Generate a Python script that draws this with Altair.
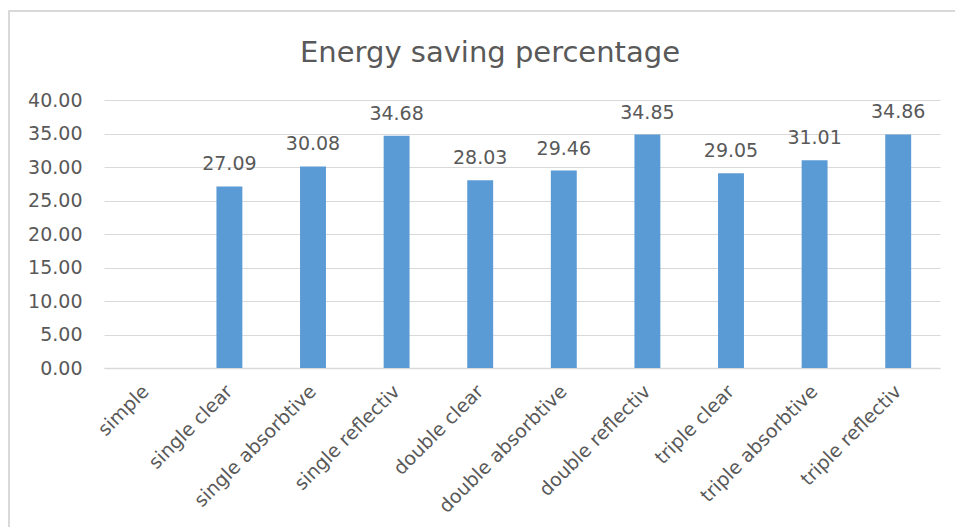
import altair as alt
import pandas as pd

# Glazing variants and their energy saving percentages
categories = [
    "simple", "single clear", "single absorbtive", "single reflectiv",
    "double clear", "double absorbtive", "double reflectiv",
    "triple clear", "triple absorbtive", "triple reflectiv",
]
savings = [None, 27.09, 30.08, 34.68, 28.03, 29.46, 34.85, 29.05, 31.01, 34.86]
y_ticks = [0, 5, 10, 15, 20, 25, 30, 35, 40]

df = pd.DataFrame({"category": categories, "saving": savings})

FONT = "DejaVu Sans"
TEXT_COLOR = "#595959"
GRID_COLOR = "#d9d9d9"
BAR_COLOR = "#5b9bd5"
LABEL_SIZE = 19

base = alt.Chart(df).encode(
    x=alt.X(
        "category:N",
        sort=categories,
        scale=alt.Scale(paddingInner=0.69, paddingOuter=0.345),
        axis=alt.Axis(
            title=None,
            labelAngle=-45,
            labelAlign="right",
            labelBaseline="middle",
            labelPadding=20,
            labelFont=FONT,
            labelFontSize=LABEL_SIZE,
            labelColor=TEXT_COLOR,
            labelOverlap=False,
            ticks=False,
            domainColor=GRID_COLOR,
            domainWidth=1.5,
            grid=False,
        ),
    ),
    y=alt.Y(
        "saving:Q",
        scale=alt.Scale(domain=[0, 40], nice=False, zero=True),
        axis=alt.Axis(
            title=None,
            values=y_ticks,
            format=".2f",
            labelPadding=22,
            labelFont=FONT,
            labelFontSize=LABEL_SIZE,
            labelColor=TEXT_COLOR,
            labelOverlap=False,
            ticks=False,
            domain=False,
            grid=True,
            gridColor=GRID_COLOR,
            gridWidth=1.2,
        ),
    ),
)

bars = base.mark_bar(color=BAR_COLOR)

labels = base.transform_filter("isValid(datum.saving)").mark_text(
    font=FONT,
    fontSize=LABEL_SIZE,
    color=TEXT_COLOR,
    baseline="alphabetic",
    dy=-16,
).encode(text=alt.Text("saving:Q", format=".2f"))

# Chart heading, drawn as a text mark above the plot
heading = alt.Chart(alt.Data(values=[{"t": "Energy saving percentage"}])).mark_text(
    font=FONT,
    fontSize=29,
    color=TEXT_COLOR,
    baseline="alphabetic",
    align="center",
).encode(x=alt.value(386), y=alt.value(-38), text="t:N")

# Light outline around the whole chart area
frame = (
    alt.Chart(alt.Data(values=[{}]))
    .mark_rect(fill="transparent", stroke=GRID_COLOR, strokeWidth=2)
    .encode(
        x=alt.value(-95),
        y=alt.value(-89),
        x2=alt.value(870),
        y2=alt.value(450),
    )
)

chart = (
    alt.layer(frame, bars, labels, heading)
    .properties(
        width=836,
        height=268,
        background="white",
        autosize=alt.AutoSizeParams(type="none"),
        padding={"left": 104, "top": 100, "right": 15, "bottom": 159},
    )
    .configure_view(strokeWidth=0)
)

chart.save("out.html", embed_options={"renderer": "svg", "actions": False})
